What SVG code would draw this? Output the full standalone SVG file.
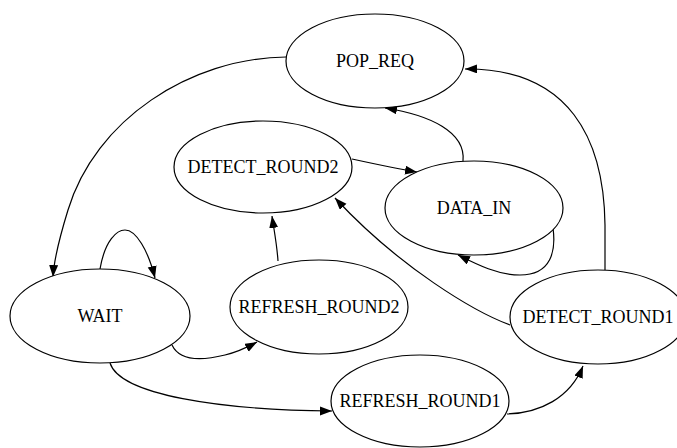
<svg xmlns="http://www.w3.org/2000/svg" width="677" height="448" viewBox="0 0 677 448">
  <style>
    .node ellipse { fill: #ffffff; stroke: #000000; stroke-width: 1.2; }
    .node text { font-family: "Liberation Serif", "Times New Roman", serif; font-size: 18px; text-anchor: middle; fill: #000000; }
    .edge { fill: none; stroke: #000000; stroke-width: 1.2; marker-end: url(#arrow); }
  </style>
  <defs>
    <marker id="arrow" markerUnits="userSpaceOnUse" markerWidth="13" markerHeight="10" refX="12" refY="4.5" orient="auto">
      <path d="M0,0 L12,4.5 L0,9 z" fill="#000000"/>
    </marker>
  </defs>
  <rect width="677" height="448" fill="#ffffff"/>

  <g id="edges">
    <path class="edge" d="M286,57 C190,58 95,120 68,210 C60,236 54,258 53,277"/>
    <path class="edge" d="M100,269 C105,240 117,230 125,230 C136,230 148,250 155,278"/>
    <path class="edge" d="M172,345 C180,362 205,360 225,355 C238,352 248,347 257,342"/>
    <path class="edge" d="M110,363 C120,395 220,410 332,411"/>
    <path class="edge" d="M507,414 C540,413 570,398 583,366"/>
    <path class="edge" d="M278,261 C277,245 274,230 272,216"/>
    <path class="edge" d="M352,159 C375,164 398,169 417,172"/>
    <path class="edge" d="M510,325 C475,312 400,268 335,198"/>
    <path class="edge" d="M605,270 L605,225 C604,140 570,68 465,69"/>
    <path class="edge" d="M463,161 C466,132 430,115 385,108"/>
    <path class="edge" d="M553,228 C556,250 552,275 520,275 C498,275 478,265 458,255"/>
  </g>

  <g id="POP_REQ" class="node">
    <ellipse cx="375" cy="61" rx="89" ry="47"/>
    <text x="375" y="67">POP_REQ</text>
  </g>
  <g id="DETECT_ROUND2" class="node">
    <ellipse cx="263" cy="167" rx="89" ry="46"/>
    <text x="263" y="173">DETECT_ROUND2</text>
  </g>
  <g id="DATA_IN" class="node">
    <ellipse cx="474" cy="208" rx="89" ry="47"/>
    <text x="474" y="214">DATA_IN</text>
  </g>
  <g id="WAIT" class="node">
    <ellipse cx="100" cy="316" rx="90" ry="47"/>
    <text x="100" y="322">WAIT</text>
  </g>
  <g id="REFRESH_ROUND2" class="node">
    <ellipse cx="319" cy="307" rx="89" ry="47"/>
    <text x="319" y="313">REFRESH_ROUND2</text>
  </g>
  <g id="DETECT_ROUND1" class="node">
    <ellipse cx="598" cy="317" rx="88" ry="47"/>
    <text x="598" y="323">DETECT_ROUND1</text>
  </g>
  <g id="REFRESH_ROUND1" class="node">
    <ellipse cx="420" cy="401" rx="89" ry="46"/>
    <text x="420" y="407">REFRESH_ROUND1</text>
  </g>
</svg>
